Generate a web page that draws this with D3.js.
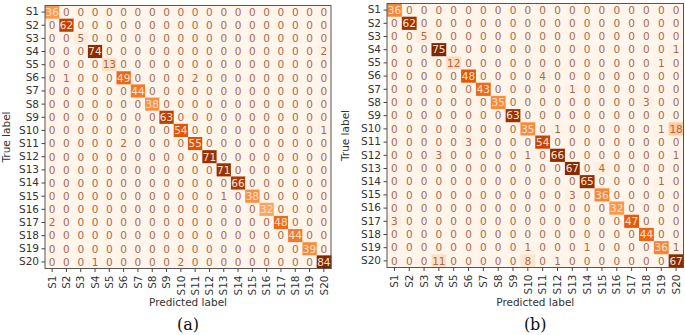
<!DOCTYPE html>
<html>
<head>
<meta charset="utf-8">
<script src="https://cdn.jsdelivr.net/npm/d3@7"></script>
<style>
  body { margin: 0; background: #fff; }
  svg text { font-family: "DejaVu Sans", sans-serif; }
  .axis path { display: none; }
  .axis line { stroke: #444; }
  .axis text { fill: #333; font-size: 10.5px; }
</style>
</head>
<body>
<svg id="chart" width="685" height="335"></svg>
<script>
const labels = d3.range(1, 21).map(i => "S" + i);

// confusion matrix (a): rows = true label, cols = predicted label
const matrixA = [
  [36,0,0,0,0,0,0,0,0,0,0,0,0,0,0,0,0,0,0,0],
  [0,62,0,0,0,0,0,0,0,0,0,0,0,0,0,0,0,0,0,0],
  [0,0,5,0,0,0,0,0,0,0,0,0,0,0,0,0,0,0,0,0],
  [0,0,0,74,0,0,0,0,0,0,0,0,0,0,0,0,0,0,0,2],
  [0,0,0,0,13,0,0,0,0,0,0,0,0,0,0,0,0,0,0,0],
  [0,1,0,0,0,49,0,0,0,0,2,0,0,0,0,0,0,0,0,0],
  [0,0,0,0,0,0,44,0,0,0,0,0,0,0,0,0,0,0,0,0],
  [0,0,0,0,0,0,0,38,0,0,0,0,0,0,0,0,0,0,0,0],
  [0,0,0,0,0,0,0,0,63,0,0,0,0,0,0,0,0,0,0,0],
  [0,0,0,0,0,0,0,0,0,54,0,0,0,0,0,0,0,0,0,1],
  [0,0,0,0,0,2,0,0,0,0,55,0,0,0,0,0,0,0,0,0],
  [0,0,0,0,0,0,0,0,0,0,0,71,0,0,0,0,0,0,0,0],
  [0,0,0,0,0,0,0,0,0,0,0,0,71,0,0,0,0,0,0,0],
  [0,0,0,0,0,0,0,0,0,0,0,0,0,66,0,0,0,0,0,0],
  [0,0,0,0,0,0,0,0,0,0,0,0,1,0,38,0,0,0,0,0],
  [0,0,0,0,0,0,0,0,0,0,0,0,0,0,0,32,0,0,0,0],
  [2,0,0,0,0,0,0,0,0,0,0,0,0,0,0,0,48,0,0,0],
  [0,0,0,0,0,0,0,0,0,0,0,0,0,0,0,0,0,44,0,0],
  [0,0,0,0,0,0,0,0,0,0,0,0,0,0,0,0,0,0,39,0],
  [0,0,0,1,0,0,0,0,0,2,0,0,0,0,0,0,0,0,0,84]
];

// confusion matrix (b)
const matrixB = [
  [36,0,0,0,0,0,0,0,0,0,0,0,0,0,0,0,0,0,0,0],
  [0,62,0,0,0,0,0,0,0,0,0,0,0,0,0,0,0,0,0,0],
  [0,0,5,0,0,0,0,0,0,0,0,0,0,0,0,0,0,0,0,0],
  [0,0,0,75,0,0,0,0,0,0,0,0,0,0,0,0,0,0,0,1],
  [0,0,0,0,12,0,0,0,0,0,0,0,0,0,0,0,0,0,1,0],
  [0,0,0,0,0,48,0,0,0,0,4,0,0,0,0,0,0,0,0,0],
  [0,0,0,0,0,0,43,0,0,0,0,0,1,0,0,0,0,0,0,0],
  [0,0,0,0,0,0,0,35,0,0,0,0,0,0,0,0,0,3,0,0],
  [0,0,0,0,0,0,0,0,63,0,0,0,0,0,0,0,0,0,0,0],
  [0,0,0,0,0,0,0,0,0,35,0,1,0,0,0,0,0,0,1,18],
  [0,0,0,0,0,3,0,0,0,0,54,0,0,0,0,0,0,0,0,0],
  [0,0,0,3,0,0,0,0,0,1,0,66,0,0,0,0,0,0,0,1],
  [0,0,0,0,0,0,0,0,0,0,0,0,67,0,4,0,0,0,0,0],
  [0,0,0,0,0,0,0,0,0,0,0,0,0,65,0,0,0,0,1,0],
  [0,0,0,0,0,0,0,0,0,0,0,0,3,0,36,0,0,0,0,0],
  [0,0,0,0,0,0,0,0,0,0,0,0,0,0,0,32,0,0,0,0],
  [3,0,0,0,0,0,0,0,0,0,0,0,0,0,0,0,47,0,0,0],
  [0,0,0,0,0,0,0,0,0,0,0,0,0,0,0,0,0,44,0,0],
  [0,0,0,0,0,0,0,0,0,1,0,0,0,1,0,0,0,0,36,1],
  [0,0,0,11,0,0,0,0,0,8,0,1,0,0,0,0,0,0,0,67]
];

const svg = d3.select("#chart");

function drawMatrix(matrix, box, caption) {
  const x = d3.scaleBand().domain(labels).range([box.x0, box.x1]);
  const y = d3.scaleBand().domain(labels).range([box.y0, box.y1]);
  const maxVal = d3.max(matrix.flat());
  // slightly stretched so mid values come out a bit deeper, like the reference
  const color = d3.scaleSequential(d3.interpolateOranges).domain([0, maxVal * 0.92]).clamp(true);

  const cells = [];
  matrix.forEach((row, i) => row.forEach((v, j) => cells.push({ r: labels[i], c: labels[j], v })));

  const g = svg.append("g");

  g.selectAll("rect.cell")
    .data(cells)
    .enter()
    .append("rect")
    .attr("class", "cell")
    .attr("x", d => x(d.c))
    .attr("y", d => y(d.r))
    .attr("width", x.bandwidth() + 0.5)
    .attr("height", y.bandwidth() + 0.5)
    .attr("fill", d => color(d.v));

  g.selectAll("text.val")
    .data(cells)
    .enter()
    .append("text")
    .attr("class", "val")
    .attr("x", d => x(d.c) + x.bandwidth() / 2)
    .attr("y", d => y(d.r) + y.bandwidth() / 2)
    .attr("dy", "0.36em")
    .attr("text-anchor", "middle")
    .style("font-size", "10.5px")
    .attr("fill", d => d.v > maxVal * 0.3 ? "#fbe3d2" : "#a86a4c")
    .text(d => d.v);

  // frame
  g.append("rect")
    .attr("x", box.x0)
    .attr("y", box.y0)
    .attr("width", box.x1 - box.x0)
    .attr("height", box.y1 - box.y0)
    .attr("fill", "none")
    .attr("stroke", "#555")
    .attr("stroke-width", 1);

  g.append("g")
    .attr("class", "axis")
    .attr("transform", `translate(${box.x0}, 0)`)
    .call(d3.axisLeft(y).tickSize(3.5).tickPadding(2.5));

  g.append("g")
    .attr("class", "axis")
    .attr("transform", `translate(0, ${box.y1})`)
    .call(d3.axisBottom(x).tickSize(3.5))
    .selectAll("text")
    .attr("transform", "rotate(-90)")
    .attr("x", -7)
    .attr("y", 0)
    .attr("dy", "0.35em")
    .attr("text-anchor", "end");

  // labels
  g.append("text")
    .attr("text-anchor", "middle")
    .attr("transform", `rotate(-90)`)
    .attr("x", -(box.y0 + box.y1) / 2)
    .attr("y", box.x0 - box.yLabelOff)
    .attr("fill", "#333")
    .style("font-size", "10.5px")
    .text("True label");

  g.append("text")
    .attr("text-anchor", "middle")
    .attr("x", (box.x0 + box.x1) / 2)
    .attr("y", 306)
    .attr("fill", "#333")
    .style("font-size", "10.5px")
    .text("Predicted label");

  g.append("text")
    .attr("text-anchor", "middle")
    .attr("x", (box.x0 + box.x1) / 2)
    .attr("y", 330)
    .attr("fill", "#111")
    .style("font-family", "'DejaVu Serif', serif")
    .style("font-size", "16px")
    .text(caption);
}

drawMatrix(matrixA, { x0: 45, x1: 331, y0: 5.5, y1: 268.5, yLabelOff: 35.5 }, "(a)");
drawMatrix(matrixB, { x0: 387, x1: 683.5, y0: 3.5, y1: 267.5, yLabelOff: 38 }, "(b)");
</script>
</body>
</html>
